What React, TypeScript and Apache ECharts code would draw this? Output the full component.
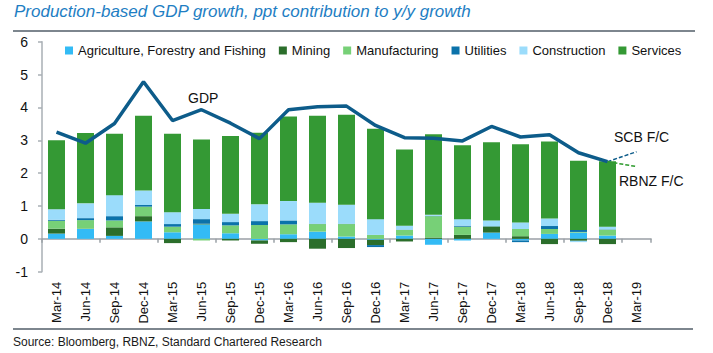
import React, { useEffect, useRef } from "react";
import * as echarts from "echarts";

const categories = ["Mar-14","Jun-14","Sep-14","Dec-14","Mar-15","Jun-15","Sep-15","Dec-15","Mar-16","Jun-16","Sep-16","Dec-16","Mar-17","Jun-17","Sep-17","Dec-17","Mar-18","Jun-18","Sep-18","Dec-18","Mar-19"];

const agriculture = [0.16, 0.30, 0.09, 0.53, 0.20, 0.44, 0.17, -0.05, 0.14, 0.22, 0.07, -0.03, 0.10, -0.18, -0.05, 0.19, -0.05, 0.15, 0.19, 0.10, null];
const mining = [0.15, 0.01, 0.26, 0.16, -0.13, 0.02, -0.05, -0.10, -0.10, -0.30, -0.28, -0.16, -0.08, 0.04, 0.12, 0.18, 0.08, -0.16, -0.06, -0.16, null];
const manufacturing = [0.24, 0.26, 0.21, 0.29, 0.17, -0.05, 0.24, 0.42, 0.30, 0.23, 0.38, 0.12, 0.17, 0.65, 0.25, 0.01, 0.22, 0.15, 0.02, 0.18, null];
const utilities = [0.03, 0.06, 0.13, 0.05, 0.08, 0.14, 0.10, 0.12, 0.12, 0.01, 0.01, -0.06, 0.01, 0.01, 0.03, 0.01, -0.05, 0.09, 0.06, 0.01, null];
const construction = [0.32, 0.45, 0.64, 0.44, 0.36, 0.31, 0.25, 0.51, 0.59, 0.64, 0.58, 0.48, 0.12, 0.03, 0.20, 0.17, 0.20, 0.23, -0.04, 0.08, null];
const services = [2.10, 2.14, 1.87, 2.28, 2.39, 2.11, 2.37, 2.18, 2.57, 2.65, 2.74, 2.75, 2.32, 2.45, 2.25, 2.38, 2.38, 2.34, 2.11, 1.99, null];

const gdp = [3.25, 2.91, 3.51, 4.78, 3.6, 3.93, 3.52, 3.05, 3.93, 4.02, 4.04, 3.45, 3.08, 3.06, 2.98, 3.42, 3.1, 3.17, 2.62, 2.35, null];
const scbForecast = [null, null, null, null, null, null, null, null, null, null, null, null, null, null, null, null, null, null, null, 2.35, 2.65];
const rbnzForecast = [null, null, null, null, null, null, null, null, null, null, null, null, null, null, null, null, null, null, null, 2.35, 2.2];

const yTicks = { min: -1, max: 6, interval: 1 };

const sectorNames = ["Agriculture, Forestry and Fishing", "Mining", "Manufacturing", "Utilities", "Construction", "Services"];
const sectorData = [agriculture, mining, manufacturing, utilities, construction, services];
const sectorColors = ["#33BBF5", "#2B6E2B", "#77D077", "#0B72AA", "#9BDCFB", "#349934"];

const FONT = "'Liberation Sans', Arial, sans-serif";

export default function App() {
  const ref = useRef<HTMLDivElement>(null);
  useEffect(() => {
    if (!ref.current) return;
    const chart = echarts.init(ref.current, null, { renderer: "svg" });
    const barSeries = sectorNames.map((name, i) => ({
      name,
      type: "bar",
      stack: "gdp",
      data: sectorData[i],
      barWidth: 17,
      itemStyle: { color: sectorColors[i] },
      xAxisIndex: 0,
      yAxisIndex: 0,
    }));
    chart.setOption({
      animation: false,
      textStyle: { fontFamily: FONT },
      grid: { left: 42, right: 62, top: 41.7, bottom: 81.3, containLabel: false },
      legend: {
        data: sectorNames,
        left: 60,
        top: 39,
        itemWidth: 8,
        itemHeight: 8,
        itemGap: 13,
        icon: "rect",
        textStyle: { fontSize: 13, color: "#111", fontFamily: FONT },
        selectedMode: false,
      },
      xAxis: [
        {
          type: "category",
          data: categories,
          position: "bottom",
          axisLine: { show: false, onZero: false },
          axisTick: { show: false },
          axisLabel: { rotate: 90, interval: 0, fontSize: 13, color: "#111", margin: 10, fontFamily: FONT },
        },
        {
          type: "category",
          data: categories,
          position: "bottom",
          axisLine: { show: true, onZero: true, lineStyle: { color: "#9aa0a6", width: 1.5 } },
          axisTick: { show: true, length: 4, lineStyle: { color: "#9aa0a6", width: 1.5 } },
          axisLabel: { show: false },
        },
      ],
      yAxis: {
        type: "value",
        min: yTicks.min,
        max: yTicks.max,
        interval: yTicks.interval,
        axisLine: { show: true, lineStyle: { color: "#a9afb5", width: 1.5 } },
        axisTick: { show: true, length: 4, lineStyle: { color: "#a9afb5", width: 1.5 } },
        axisLabel: { fontSize: 14, color: "#111", margin: 14, fontFamily: FONT },
        splitLine: { show: false },
      },
      series: [
        ...barSeries,
        {
          name: "GDP",
          type: "line",
          data: gdp,
          symbol: "none",
          lineStyle: { color: "#0D5C8A", width: 3.5 },
          itemStyle: { color: "#0D5C8A" },
          z: 5,
        },
        {
          name: "SCB F/C",
          type: "line",
          data: scbForecast,
          symbol: "none",
          lineStyle: { color: "#0D5C8A", width: 1.5, type: [4, 2] },
          z: 5,
        },
        {
          name: "RBNZ F/C",
          type: "line",
          data: rbnzForecast,
          symbol: "none",
          lineStyle: { color: "#2E9B2E", width: 1.5, type: [4, 2] },
          z: 5,
        },
      ],
      graphic: [
        {
          type: "text",
          left: 14,
          top: 3,
          style: {
            text: "Production-based GDP growth, ppt contribution to y/y growth",
            fontSize: 17,
            fontStyle: "italic",
            fill: "#1E7EC3",
            fontFamily: FONT,
          },
        },
        {
          type: "line",
          shape: { x1: 13, y1: 31, x2: 695, y2: 31 },
          style: { stroke: "#7d868e", lineWidth: 2 },
        },
        {
          type: "line",
          shape: { x1: 13, y1: 329, x2: 693, y2: 329 },
          style: { stroke: "#7d868e", lineWidth: 2 },
        },
        {
          type: "text",
          left: 13,
          top: 336,
          style: { text: "Source: Bloomberg, RBNZ, Standard Chartered Research", fontSize: 12, fill: "#1a1a1a", fontFamily: FONT },
        },
        {
          type: "text",
          left: 188,
          top: 91,
          style: { text: "GDP", fontSize: 14, fill: "#111", fontFamily: FONT },
        },
        {
          type: "text",
          left: 614,
          top: 130,
          style: { text: "SCB F/C", fontSize: 14, fill: "#111", fontFamily: FONT },
        },
        {
          type: "text",
          left: 619,
          top: 174,
          style: { text: "RBNZ F/C", fontSize: 14, fill: "#111", fontFamily: FONT },
        },
      ],
    });
    return () => chart.dispose();
  }, []);
  return (
    <div
      ref={ref}
      style={{ position: "fixed", left: 0, top: 0, width: 713, height: 353, background: "#fff" }}
    />
  );
}
